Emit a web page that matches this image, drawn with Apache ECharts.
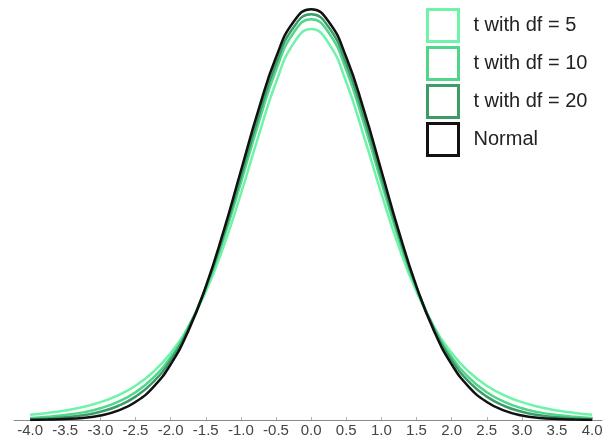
<!DOCTYPE html>
<html>
<head>
<meta charset="utf-8">
<script src="https://cdn.jsdelivr.net/npm/echarts@6/dist/echarts.min.js"></script>
<style>
  html, body { margin: 0; padding: 0; background: #fff; }
  #main { width: 615px; height: 445px; }
</style>
</head>
<body>
<div id="main"></div>
<script>
const xs = [-4, -3.75, -3.5, -3.25, -3, -2.75, -2.5, -2.25, -2, -1.75, -1.5, -1.25, -1, -0.75, -0.5, -0.25,
  0, 0.25, 0.5, 0.75, 1, 1.25, 1.5, 1.75, 2, 2.25, 2.5, 2.75, 3, 3.25, 3.5, 3.75, 4];

const df5 = [0.0051, 0.0069, 0.0092, 0.0126, 0.0173, 0.0239, 0.0333, 0.0466, 0.0651, 0.0905, 0.1245, 0.1679, 0.2197, 0.2757, 0.3279, 0.3657,
  0.3796, 0.3657, 0.3279, 0.2757, 0.2197, 0.1679, 0.1245, 0.0905, 0.0651, 0.0466, 0.0333, 0.0239, 0.0173, 0.0126, 0.0092, 0.0069, 0.0051];
const df10 = [0.0020, 0.0031, 0.0048, 0.0074, 0.0114, 0.0176, 0.0269, 0.0409, 0.0611, 0.0895, 0.1274, 0.1751, 0.2304, 0.2880, 0.3397, 0.3760,
  0.3891, 0.3760, 0.3397, 0.2880, 0.2304, 0.1751, 0.1274, 0.0895, 0.0611, 0.0409, 0.0269, 0.0176, 0.0114, 0.0074, 0.0048, 0.0031, 0.0020];
const df20 = [0.0008, 0.0015, 0.0026, 0.0046, 0.0080, 0.0136, 0.0227, 0.0368, 0.0581, 0.0883, 0.1286, 0.1788, 0.2360, 0.2944, 0.3458, 0.3813,
  0.3940, 0.3813, 0.3458, 0.2944, 0.2360, 0.1788, 0.1286, 0.0883, 0.0581, 0.0368, 0.0227, 0.0136, 0.0080, 0.0046, 0.0026, 0.0015, 0.0008];
const normal = [0.0001, 0.0004, 0.0009, 0.0020, 0.0044, 0.0091, 0.0175, 0.0317, 0.0540, 0.0863, 0.1295, 0.1826, 0.2420, 0.3011, 0.3521, 0.3867,
  0.3989, 0.3867, 0.3521, 0.3011, 0.2420, 0.1826, 0.1295, 0.0863, 0.0540, 0.0317, 0.0175, 0.0091, 0.0044, 0.0020, 0.0009, 0.0004, 0.0001];

const tickVals = [-4, -3.5, -3, -2.5, -2, -1.5, -1, -0.5, 0, 0.5, 1, 1.5, 2, 2.5, 3, 3.5, 4];

const names = ['t with df = 5', 't with df = 10', 't with df = 20', 'Normal'];
const colors = ['#6ff3a8', '#50d68b', '#3b9c67', '#111111'];
const seriesData = [df5, df10, df20, normal];

const pairs = (ys) => xs.map((x, i) => [x, ys[i]]);

const chart = echarts.init(document.getElementById('main'));
chart.setOption({
  animation: false,
  backgroundColor: '#fff',
  grid: { left: 14, right: 13, top: 8, bottom: 25 },
  xAxis: {
    type: 'value',
    min: -4.23,
    max: 4.14,
    splitLine: { show: false },
    axisLine: { lineStyle: { color: '#8a8a8a', width: 1 } },
    axisTick: { show: true, inside: true, length: 3, customValues: tickVals, lineStyle: { color: '#b0b0b0' } },
    axisLabel: {
      customValues: tickVals,
      margin: 3,
      color: '#444',
      fontSize: 15,
      fontFamily: 'Liberation Sans, Arial, sans-serif',
      formatter: (v) => v.toFixed(1)
    }
  },
  yAxis: {
    type: 'value',
    min: 0,
    max: 0.4,
    show: false
  },
  legend: {
    orient: 'vertical',
    left: 426,
    top: 8,
    padding: 0,
    itemWidth: 31,
    itemHeight: 32,
    itemGap: 3,
    icon: 'rect',
    textStyle: {
      fontSize: 20,
      color: '#222',
      fontFamily: 'Liberation Sans, Arial, sans-serif',
      padding: [6, 0, 0, 10]
    },
    data: names.map((n, i) => ({
      name: n,
      itemStyle: { color: '#fff', borderColor: colors[i], borderWidth: 3 }
    }))
  },
  series: names.map((n, i) => ({
    name: n,
    type: 'line',
    smooth: true,
    showSymbol: false,
    symbol: 'none',
    data: pairs(seriesData[i]),
    lineStyle: { color: colors[i], width: 2.5 },
    itemStyle: { color: colors[i] },
    z: 2 + i
  }))
});
</script>
</body>
</html>
